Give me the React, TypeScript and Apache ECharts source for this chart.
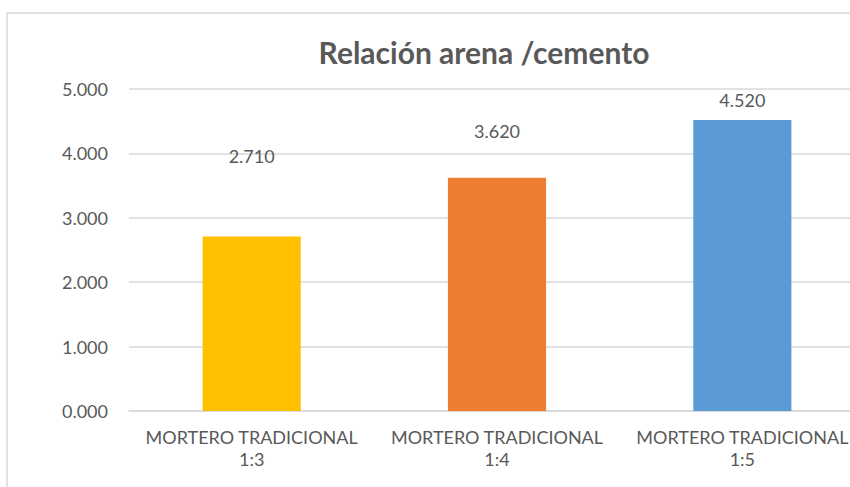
import React, { useEffect, useRef } from "react";
import * as echarts from "echarts";

const title = "Relación arena /cemento";
const categories = ["MORTERO TRADICIONAL\n1:3", "MORTERO TRADICIONAL\n1:4", "MORTERO TRADICIONAL\n1:5"];
const values = [2.71, 3.62, 4.52];
const barColors = ["#FFC000", "#ED7D31", "#5B9BD5"];
const labelLift = [-66, -33, -6];
const yMin = 0;
const yMax = 5;
const yInterval = 1;

const FONT = "Lato";
const TEXT = "#595959";

export default function App() {
  const ref = useRef<HTMLDivElement>(null);
  useEffect(() => {
    document.body.style.margin = "0";
    if (!ref.current) return;
    const chart = echarts.init(ref.current, undefined, { renderer: "svg" });
    chart.setOption({
      animation: false,
      backgroundColor: "#ffffff",
      textStyle: { fontFamily: FONT },
      title: {
        text: title,
        left: 479,
        textAlign: "center",
        top: 32,
        textStyle: { fontFamily: FONT, fontWeight: "bold", fontSize: 30, color: TEXT },
      },
      graphic: [
        {
          type: "rect",
          shape: { x: 7, y: 13, width: 900, height: 500 },
          style: { fill: "none", stroke: "#d9d9d9", lineWidth: 1.5 },
          silent: true,
        },
      ],
      grid: {
        left: 129,
        width: 736,
        top: 89,
        height: 322,
        containLabel: false,
        outerBoundsMode: "none",
      },
      xAxis: {
        type: "category",
        data: categories,
        axisLine: { show: true, lineStyle: { color: "#d9d9d9", width: 1.5 } },
        axisTick: { show: false },
        axisLabel: {
          color: TEXT,
          fontFamily: FONT,
          fontSize: 18,
          lineHeight: 22,
          margin: 15,
          interval: 0,
          hideOverlap: false,
        },
      },
      yAxis: {
        type: "value",
        min: yMin,
        max: yMax,
        interval: yInterval,
        axisLine: { show: false },
        axisTick: { show: false },
        splitLine: { lineStyle: { color: "#d9d9d9", width: 1.5 } },
        axisLabel: {
          color: TEXT,
          fontFamily: FONT,
          fontSize: 18,
          margin: 21,
          formatter: (v: number) => v.toFixed(3),
        },
      },
      series: [
        {
          type: "bar",
          barWidth: "40%",
          data: values.map((v, i) => ({
            value: v,
            itemStyle: { color: barColors[i] },
            label: { offset: [0, labelLift[i]] },
          })),
          label: {
            show: true,
            position: "top",
            distance: 5,
            color: TEXT,
            fontFamily: FONT,
            fontSize: 18,
            formatter: (p: any) => Number(p.value).toFixed(3),
          },
        },
      ],
    });
    return () => chart.dispose();
  }, []);
  return <div ref={ref} style={{ width: 850, height: 487 }} />;
}
